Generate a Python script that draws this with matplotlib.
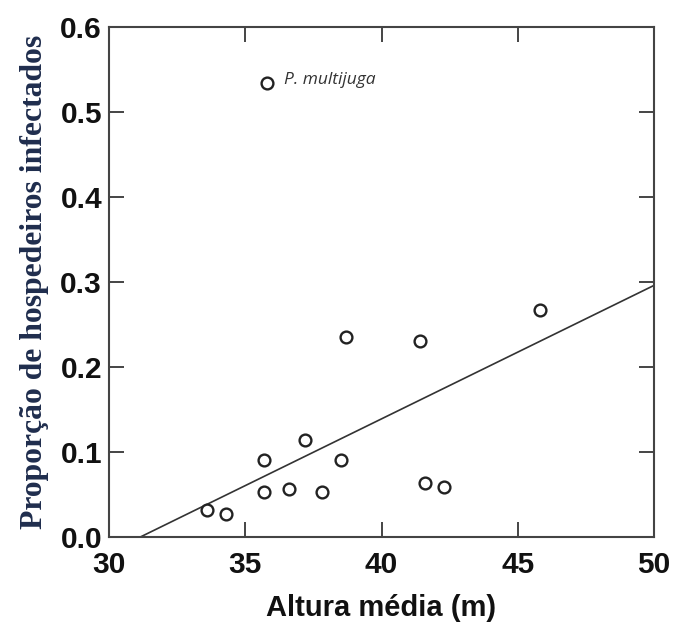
import matplotlib
matplotlib.use("Agg")
import matplotlib.pyplot as plt
import numpy as np

# Data
altura = [33.6, 34.3, 35.7, 35.7, 36.6, 37.2, 37.8, 38.5, 38.7, 41.4, 41.6, 42.3, 45.8]
proporcao = [0.032, 0.027, 0.091, 0.053, 0.057, 0.114, 0.053, 0.091, 0.235, 0.231, 0.064, 0.059, 0.267]
outlier_x = [35.8]
outlier_y = [0.534]
outlier_label = "P. multijuga"
fit_x = [31.15, 50.0]
fit_y = [0.0, 0.296]
xticks = [30, 35, 40, 45, 50]
yticks = [0.0, 0.1, 0.2, 0.3, 0.4, 0.5, 0.6]

fig = plt.figure(figsize=(6.75, 6.33), dpi=100)
ax = fig.add_axes([109/675, 1-537/633, (654-109)/675, (537-27)/633])

ax.plot(fit_x, fit_y, color="#333333", lw=1.2, zorder=2)
ax.scatter(altura, proporcao, s=72, facecolors="white", edgecolors="#222222", linewidths=1.7, zorder=3)
ax.scatter(outlier_x, outlier_y, s=72, facecolors="white", edgecolors="#222222", linewidths=1.7, zorder=3)
ax.text(outlier_x[0] + 0.62, outlier_y[0] + 0.004, outlier_label, fontsize=12.5, style="italic",
        family="Open Sans", color="#333333", va="center", ha="left")

ax.set_xlim(30, 50)
ax.set_ylim(0, 0.6)
ax.set_xticks(xticks)
ax.set_yticks(yticks)
ax.set_xticklabels([str(t) for t in xticks])
ax.set_yticklabels([f"{t:.1f}" for t in yticks])

for lab in ax.get_xticklabels() + ax.get_yticklabels():
    lab.set_fontfamily("Liberation Sans")
    lab.set_fontweight("bold")
    lab.set_fontsize(21.5)
    lab.set_color("#111111")

ax.tick_params(direction="in", length=11, width=1.4, color="#444444",
               top=True, right=True)
ax.tick_params(axis="y", pad=5)
ax.tick_params(axis="x", pad=10)
for sp in ax.spines.values():
    sp.set_linewidth(1.5)
    sp.set_color("#444444")

ax.set_xlabel("Altura média (m)", fontsize=21, fontweight="bold", family="Liberation Sans",
              color="#111111", labelpad=11)
ax.set_ylabel("Proporção de hospedeiros infectados", fontsize=22.8, fontweight="bold",
              family="Liberation Serif", color="#1f2d4d", labelpad=8)

fig.savefig("out.png", dpi=100)
